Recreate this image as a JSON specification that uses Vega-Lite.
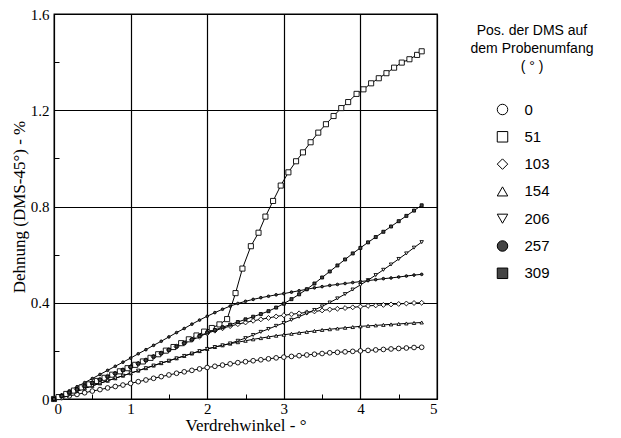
{
  "$schema": "https://vega.github.io/schema/vega-lite/v6.json",
  "width": 383,
  "height": 385,
  "autosize": "none",
  "padding": {"left": 54, "top": 14, "right": 184, "bottom": 39},
  "background": "white",
  "config": {
    "view": {"stroke": "black", "strokeWidth": 1.3},
    "legend": {"symbolStrokeColor": "black", "symbolStrokeWidth": 1}
  },
  "data": {"values": [
    {"s":"0","x":0,"y":0},{"s":"0","x":0.1,"y":0.006},{"s":"0","x":0.2,"y":0.013},{"s":"0","x":0.3,"y":0.019},{"s":"0","x":0.4,"y":0.026},{"s":"0","x":0.5,"y":0.033},{"s":"0","x":0.6,"y":0.039},{"s":"0","x":0.7,"y":0.046},{"s":"0","x":0.8,"y":0.052},{"s":"0","x":0.9,"y":0.058},{"s":"0","x":1,"y":0.065},{"s":"0","x":1.1,"y":0.072},{"s":"0","x":1.2,"y":0.079},{"s":"0","x":1.3,"y":0.086},{"s":"0","x":1.4,"y":0.093},{"s":"0","x":1.5,"y":0.1},{"s":"0","x":1.6,"y":0.107},{"s":"0","x":1.7,"y":0.113},{"s":"0","x":1.8,"y":0.119},{"s":"0","x":1.9,"y":0.125},{"s":"0","x":2,"y":0.131},{"s":"0","x":2.1,"y":0.136},{"s":"0","x":2.2,"y":0.141},{"s":"0","x":2.3,"y":0.146},{"s":"0","x":2.4,"y":0.151},{"s":"0","x":2.5,"y":0.155},{"s":"0","x":2.6,"y":0.159},{"s":"0","x":2.7,"y":0.163},{"s":"0","x":2.8,"y":0.167},{"s":"0","x":2.9,"y":0.171},{"s":"0","x":3,"y":0.174},{"s":"0","x":3.1,"y":0.177},{"s":"0","x":3.2,"y":0.18},{"s":"0","x":3.3,"y":0.183},{"s":"0","x":3.4,"y":0.186},{"s":"0","x":3.5,"y":0.189},{"s":"0","x":3.6,"y":0.192},{"s":"0","x":3.7,"y":0.194},{"s":"0","x":3.8,"y":0.196},{"s":"0","x":3.9,"y":0.198},{"s":"0","x":4,"y":0.2},{"s":"0","x":4.1,"y":0.202},{"s":"0","x":4.2,"y":0.204},{"s":"0","x":4.3,"y":0.206},{"s":"0","x":4.4,"y":0.208},{"s":"0","x":4.5,"y":0.21},{"s":"0","x":4.6,"y":0.212},{"s":"0","x":4.7,"y":0.214},{"s":"0","x":4.8,"y":0.215},

    {"s":"51","x":0,"y":0},{"s":"51","x":0.06,"y":0.008},{"s":"51","x":0.16,"y":0.021},{"s":"51","x":0.26,"y":0.035},{"s":"51","x":0.36,"y":0.048},{"s":"51","x":0.46,"y":0.061},{"s":"51","x":0.56,"y":0.075},{"s":"51","x":0.66,"y":0.088},{"s":"51","x":0.76,"y":0.101},{"s":"51","x":0.86,"y":0.115},{"s":"51","x":0.96,"y":0.128},{"s":"51","x":1.06,"y":0.142},{"s":"51","x":1.16,"y":0.156},{"s":"51","x":1.26,"y":0.171},{"s":"51","x":1.36,"y":0.186},{"s":"51","x":1.46,"y":0.201},{"s":"51","x":1.56,"y":0.216},{"s":"51","x":1.66,"y":0.232},{"s":"51","x":1.76,"y":0.248},{"s":"51","x":1.86,"y":0.264},{"s":"51","x":1.96,"y":0.28},{"s":"51","x":2.06,"y":0.295},{"s":"51","x":2.16,"y":0.31},{"s":"51","x":2.26,"y":0.332},{"s":"51","x":2.37,"y":0.44},{"s":"51","x":2.46,"y":0.542},{"s":"51","x":2.57,"y":0.635},{"s":"51","x":2.67,"y":0.691},{"s":"51","x":2.76,"y":0.758},{"s":"51","x":2.86,"y":0.823},{"s":"51","x":2.96,"y":0.887},{"s":"51","x":3.06,"y":0.942},{"s":"51","x":3.16,"y":0.988},{"s":"51","x":3.25,"y":1.025},{"s":"51","x":3.35,"y":1.067},{"s":"51","x":3.45,"y":1.107},{"s":"51","x":3.55,"y":1.142},{"s":"51","x":3.65,"y":1.176},{"s":"51","x":3.75,"y":1.209},{"s":"51","x":3.84,"y":1.234},{"s":"51","x":3.95,"y":1.268},{"s":"51","x":4.04,"y":1.287},{"s":"51","x":4.14,"y":1.312},{"s":"51","x":4.24,"y":1.333},{"s":"51","x":4.34,"y":1.354},{"s":"51","x":4.44,"y":1.377},{"s":"51","x":4.54,"y":1.398},{"s":"51","x":4.64,"y":1.412},{"s":"51","x":4.74,"y":1.43},{"s":"51","x":4.8,"y":1.445},

    {"s":"103","x":0,"y":0},{"s":"103","x":0.1,"y":0.013},{"s":"103","x":0.2,"y":0.027},{"s":"103","x":0.3,"y":0.04},{"s":"103","x":0.4,"y":0.053},{"s":"103","x":0.5,"y":0.067},{"s":"103","x":0.6,"y":0.08},{"s":"103","x":0.7,"y":0.093},{"s":"103","x":0.8,"y":0.106},{"s":"103","x":0.9,"y":0.12},{"s":"103","x":1,"y":0.133},{"s":"103","x":1.1,"y":0.147},{"s":"103","x":1.2,"y":0.161},{"s":"103","x":1.3,"y":0.176},{"s":"103","x":1.4,"y":0.19},{"s":"103","x":1.5,"y":0.204},{"s":"103","x":1.6,"y":0.218},{"s":"103","x":1.7,"y":0.232},{"s":"103","x":1.8,"y":0.246},{"s":"103","x":1.9,"y":0.26},{"s":"103","x":2,"y":0.273},{"s":"103","x":2.1,"y":0.284},{"s":"103","x":2.2,"y":0.294},{"s":"103","x":2.3,"y":0.303},{"s":"103","x":2.4,"y":0.311},{"s":"103","x":2.5,"y":0.318},{"s":"103","x":2.6,"y":0.325},{"s":"103","x":2.7,"y":0.331},{"s":"103","x":2.8,"y":0.337},{"s":"103","x":2.9,"y":0.343},{"s":"103","x":3,"y":0.348},{"s":"103","x":3.1,"y":0.352},{"s":"103","x":3.2,"y":0.356},{"s":"103","x":3.3,"y":0.36},{"s":"103","x":3.4,"y":0.364},{"s":"103","x":3.5,"y":0.368},{"s":"103","x":3.6,"y":0.372},{"s":"103","x":3.7,"y":0.375},{"s":"103","x":3.8,"y":0.378},{"s":"103","x":3.9,"y":0.381},{"s":"103","x":4,"y":0.384},{"s":"103","x":4.1,"y":0.387},{"s":"103","x":4.2,"y":0.389},{"s":"103","x":4.3,"y":0.391},{"s":"103","x":4.4,"y":0.393},{"s":"103","x":4.5,"y":0.395},{"s":"103","x":4.6,"y":0.397},{"s":"103","x":4.7,"y":0.399},{"s":"103","x":4.8,"y":0.4},

    {"s":"154","x":0,"y":0},{"s":"154","x":0.1,"y":0.011},{"s":"154","x":0.2,"y":0.022},{"s":"154","x":0.3,"y":0.033},{"s":"154","x":0.4,"y":0.044},{"s":"154","x":0.5,"y":0.055},{"s":"154","x":0.6,"y":0.065},{"s":"154","x":0.7,"y":0.076},{"s":"154","x":0.8,"y":0.086},{"s":"154","x":0.9,"y":0.097},{"s":"154","x":1,"y":0.107},{"s":"154","x":1.1,"y":0.118},{"s":"154","x":1.2,"y":0.128},{"s":"154","x":1.3,"y":0.139},{"s":"154","x":1.4,"y":0.149},{"s":"154","x":1.5,"y":0.159},{"s":"154","x":1.6,"y":0.169},{"s":"154","x":1.7,"y":0.179},{"s":"154","x":1.8,"y":0.189},{"s":"154","x":1.9,"y":0.199},{"s":"154","x":2,"y":0.208},{"s":"154","x":2.1,"y":0.216},{"s":"154","x":2.2,"y":0.223},{"s":"154","x":2.3,"y":0.23},{"s":"154","x":2.4,"y":0.236},{"s":"154","x":2.5,"y":0.242},{"s":"154","x":2.6,"y":0.248},{"s":"154","x":2.7,"y":0.253},{"s":"154","x":2.8,"y":0.258},{"s":"154","x":2.9,"y":0.263},{"s":"154","x":3,"y":0.267},{"s":"154","x":3.1,"y":0.271},{"s":"154","x":3.2,"y":0.275},{"s":"154","x":3.3,"y":0.279},{"s":"154","x":3.4,"y":0.283},{"s":"154","x":3.5,"y":0.287},{"s":"154","x":3.6,"y":0.29},{"s":"154","x":3.7,"y":0.293},{"s":"154","x":3.8,"y":0.296},{"s":"154","x":3.9,"y":0.299},{"s":"154","x":4,"y":0.302},{"s":"154","x":4.1,"y":0.304},{"s":"154","x":4.2,"y":0.306},{"s":"154","x":4.3,"y":0.308},{"s":"154","x":4.4,"y":0.31},{"s":"154","x":4.5,"y":0.312},{"s":"154","x":4.6,"y":0.314},{"s":"154","x":4.7,"y":0.316},{"s":"154","x":4.8,"y":0.318},

    {"s":"206","x":0,"y":0},{"s":"206","x":0.1,"y":0.011},{"s":"206","x":0.2,"y":0.022},{"s":"206","x":0.3,"y":0.033},{"s":"206","x":0.4,"y":0.044},{"s":"206","x":0.5,"y":0.055},{"s":"206","x":0.6,"y":0.065},{"s":"206","x":0.7,"y":0.076},{"s":"206","x":0.8,"y":0.086},{"s":"206","x":0.9,"y":0.097},{"s":"206","x":1,"y":0.107},{"s":"206","x":1.1,"y":0.118},{"s":"206","x":1.2,"y":0.128},{"s":"206","x":1.3,"y":0.139},{"s":"206","x":1.4,"y":0.149},{"s":"206","x":1.5,"y":0.159},{"s":"206","x":1.6,"y":0.169},{"s":"206","x":1.7,"y":0.179},{"s":"206","x":1.8,"y":0.189},{"s":"206","x":1.9,"y":0.199},{"s":"206","x":2,"y":0.208},{"s":"206","x":2.1,"y":0.216},{"s":"206","x":2.2,"y":0.223},{"s":"206","x":2.3,"y":0.231},{"s":"206","x":2.4,"y":0.242},{"s":"206","x":2.5,"y":0.253},{"s":"206","x":2.6,"y":0.266},{"s":"206","x":2.7,"y":0.279},{"s":"206","x":2.8,"y":0.291},{"s":"206","x":2.9,"y":0.304},{"s":"206","x":3,"y":0.316},{"s":"206","x":3.1,"y":0.329},{"s":"206","x":3.2,"y":0.342},{"s":"206","x":3.3,"y":0.356},{"s":"206","x":3.4,"y":0.37},{"s":"206","x":3.5,"y":0.385},{"s":"206","x":3.6,"y":0.401},{"s":"206","x":3.7,"y":0.418},{"s":"206","x":3.8,"y":0.436},{"s":"206","x":3.9,"y":0.455},{"s":"206","x":4,"y":0.474},{"s":"206","x":4.1,"y":0.494},{"s":"206","x":4.2,"y":0.515},{"s":"206","x":4.3,"y":0.537},{"s":"206","x":4.4,"y":0.559},{"s":"206","x":4.5,"y":0.582},{"s":"206","x":4.6,"y":0.605},{"s":"206","x":4.7,"y":0.629},{"s":"206","x":4.8,"y":0.652},

    {"s":"257","x":0,"y":0},{"s":"257","x":0.1,"y":0.017},{"s":"257","x":0.2,"y":0.034},{"s":"257","x":0.3,"y":0.051},{"s":"257","x":0.4,"y":0.068},{"s":"257","x":0.5,"y":0.085},{"s":"257","x":0.6,"y":0.102},{"s":"257","x":0.7,"y":0.119},{"s":"257","x":0.8,"y":0.136},{"s":"257","x":0.9,"y":0.153},{"s":"257","x":1,"y":0.17},{"s":"257","x":1.1,"y":0.188},{"s":"257","x":1.2,"y":0.205},{"s":"257","x":1.3,"y":0.223},{"s":"257","x":1.4,"y":0.24},{"s":"257","x":1.5,"y":0.258},{"s":"257","x":1.6,"y":0.276},{"s":"257","x":1.7,"y":0.293},{"s":"257","x":1.8,"y":0.311},{"s":"257","x":1.9,"y":0.328},{"s":"257","x":2,"y":0.344},{"s":"257","x":2.1,"y":0.359},{"s":"257","x":2.2,"y":0.373},{"s":"257","x":2.3,"y":0.386},{"s":"257","x":2.4,"y":0.397},{"s":"257","x":2.5,"y":0.406},{"s":"257","x":2.6,"y":0.414},{"s":"257","x":2.7,"y":0.421},{"s":"257","x":2.8,"y":0.427},{"s":"257","x":2.9,"y":0.433},{"s":"257","x":3,"y":0.438},{"s":"257","x":3.1,"y":0.444},{"s":"257","x":3.2,"y":0.45},{"s":"257","x":3.3,"y":0.456},{"s":"257","x":3.4,"y":0.462},{"s":"257","x":3.5,"y":0.467},{"s":"257","x":3.6,"y":0.472},{"s":"257","x":3.7,"y":0.476},{"s":"257","x":3.8,"y":0.48},{"s":"257","x":3.9,"y":0.484},{"s":"257","x":4,"y":0.488},{"s":"257","x":4.1,"y":0.492},{"s":"257","x":4.2,"y":0.496},{"s":"257","x":4.3,"y":0.5},{"s":"257","x":4.4,"y":0.503},{"s":"257","x":4.5,"y":0.507},{"s":"257","x":4.6,"y":0.511},{"s":"257","x":4.7,"y":0.515},{"s":"257","x":4.8,"y":0.518},

    {"s":"309","x":0,"y":0},{"s":"309","x":0.1,"y":0.013},{"s":"309","x":0.2,"y":0.027},{"s":"309","x":0.3,"y":0.04},{"s":"309","x":0.4,"y":0.053},{"s":"309","x":0.5,"y":0.067},{"s":"309","x":0.6,"y":0.08},{"s":"309","x":0.7,"y":0.093},{"s":"309","x":0.8,"y":0.106},{"s":"309","x":0.9,"y":0.12},{"s":"309","x":1,"y":0.133},{"s":"309","x":1.1,"y":0.147},{"s":"309","x":1.2,"y":0.161},{"s":"309","x":1.3,"y":0.176},{"s":"309","x":1.4,"y":0.19},{"s":"309","x":1.5,"y":0.204},{"s":"309","x":1.6,"y":0.218},{"s":"309","x":1.7,"y":0.232},{"s":"309","x":1.8,"y":0.247},{"s":"309","x":1.9,"y":0.262},{"s":"309","x":2,"y":0.276},{"s":"309","x":2.1,"y":0.287},{"s":"309","x":2.2,"y":0.298},{"s":"309","x":2.3,"y":0.309},{"s":"309","x":2.4,"y":0.32},{"s":"309","x":2.5,"y":0.331},{"s":"309","x":2.6,"y":0.342},{"s":"309","x":2.7,"y":0.353},{"s":"309","x":2.8,"y":0.365},{"s":"309","x":2.9,"y":0.38},{"s":"309","x":3,"y":0.396},{"s":"309","x":3.1,"y":0.415},{"s":"309","x":3.2,"y":0.435},{"s":"309","x":3.3,"y":0.456},{"s":"309","x":3.4,"y":0.48},{"s":"309","x":3.5,"y":0.505},{"s":"309","x":3.6,"y":0.53},{"s":"309","x":3.7,"y":0.555},{"s":"309","x":3.8,"y":0.58},{"s":"309","x":3.9,"y":0.605},{"s":"309","x":4,"y":0.628},{"s":"309","x":4.1,"y":0.651},{"s":"309","x":4.2,"y":0.673},{"s":"309","x":4.3,"y":0.695},{"s":"309","x":4.4,"y":0.717},{"s":"309","x":4.5,"y":0.739},{"s":"309","x":4.6,"y":0.761},{"s":"309","x":4.7,"y":0.783},{"s":"309","x":4.8,"y":0.805}
  ]},
  "encoding": {
    "x": {
      "field": "x", "type": "quantitative",
      "scale": {"domain": [0, 5], "nice": false, "zero": false},
      "axis": {
        "values": [0, 0.5, 1, 1.5, 2, 2.5, 3, 3.5, 4, 4.5, 5],
        "format": "~g",
        "labelExpr": "datum.value % 1 === 0 ? datum.label : ''",
        "grid": true,
        "gridColor": "black",
        "gridWidth": 1.2,
        "gridOpacity": {"condition": {"test": "datum.value % 1 !== 0", "value": 0}, "value": 1},
        "domain": false,
        "tickSize": -5,
        "tickColor": "black",
        "tickWidth": 1,
        "labelPadding": 7,
        "labelFont": "Liberation Serif",
        "labelFontSize": 15,
        "labelColor": "black",
        "title": "Verdrehwinkel - °",
        "titleFont": "Liberation Serif",
        "titleFontSize": 17,
        "titleFontWeight": "normal",
        "titleColor": "black",
        "titlePadding": 1
      }
    },
    "y": {
      "field": "y", "type": "quantitative",
      "scale": {"domain": [0, 1.6], "nice": false},
      "axis": {
        "values": [0, 0.2, 0.4, 0.6, 0.8, 1, 1.2, 1.4, 1.6],
        "format": "~g",
        "labelExpr": "round(datum.value * 10) % 4 === 0 ? datum.label : ''",
        "grid": true,
        "gridColor": "black",
        "gridWidth": 1.2,
        "gridOpacity": {"condition": {"test": "round(datum.value * 10) % 4 !== 0", "value": 0}, "value": 1},
        "domain": false,
        "tickSize": -5,
        "tickColor": "black",
        "tickWidth": 1,
        "labelPadding": 10,
        "labelFont": "Liberation Serif",
        "labelFontSize": 15,
        "labelColor": "black",
        "title": "Dehnung (DMS-45°) - %",
        "titleFont": "Liberation Serif",
        "titleFontSize": 17,
        "titleFontWeight": "normal",
        "titleColor": "black",
        "titlePadding": 2
      }
    }
  },
  "layer": [
    {
      "mark": {"type": "line", "color": "black", "strokeWidth": 1},
      "encoding": {"detail": {"field": "s", "type": "nominal"}}
    },
    {
      "mark": {"type": "point", "filled": true, "strokeWidth": 0.9, "opacity": 1},
      "encoding": {
        "shape": {
          "field": "s", "type": "nominal",
          "scale": {"domain": ["0", "51", "103", "154", "206", "257", "309"], "range": ["circle", "square", "diamond", "triangle-up", "triangle-down", "circle", "square"]},
          "legend": {
            "title": ["Pos. der DMS auf", "dem Probenumfang", "( ° )"],
            "orient": "none",
            "legendX": 417,
            "legendY": 10,
            "titleFont": "Liberation Sans",
            "titleFontSize": 14,
            "titleFontWeight": "normal",
            "titleColor": "black",
            "titleAnchor": "middle",
            "titleAlign": "center",
            "titleLineHeight": 18,
            "titlePadding": 28,
            "labelFont": "Liberation Sans",
            "labelFontSize": 15,
            "labelColor": "black",
            "labelOffset": 14.5,
            "symbolSize": 110,
            "symbolStrokeWidth": 1,
            "symbolOffset": -20,
            "rowPadding": 11.3
          }
        },
        "fill": {
          "field": "s", "type": "nominal",
          "scale": {"domain": ["0", "51", "103", "154", "206", "257", "309"], "range": ["white", "white", "white", "white", "white", "#444444", "#444444"]},
          "legend": {
            "title": ["Pos. der DMS auf", "dem Probenumfang", "( ° )"],
            "orient": "none",
            "legendX": 417,
            "legendY": 10,
            "symbolOffset": -20,
            "labelOffset": 14.5
          }
        },
        "stroke": {
          "field": "s", "type": "nominal",
          "scale": {"domain": ["0", "51", "103", "154", "206", "257", "309"], "range": ["black", "black", "black", "black", "black", "black", "black"]},
          "legend": {
            "title": ["Pos. der DMS auf", "dem Probenumfang", "( ° )"],
            "orient": "none",
            "legendX": 417,
            "legendY": 10,
            "symbolOffset": -20,
            "labelOffset": 14.5
          }
        },
        "size": {
          "field": "s", "type": "nominal",
          "scale": {"type": "ordinal", "domain": ["309", "257", "206", "154", "103", "51", "0"], "range": [9, 7, 12, 12, 24, 26, 22]},
          "legend": null
        }
      }
    }
  ]
}
